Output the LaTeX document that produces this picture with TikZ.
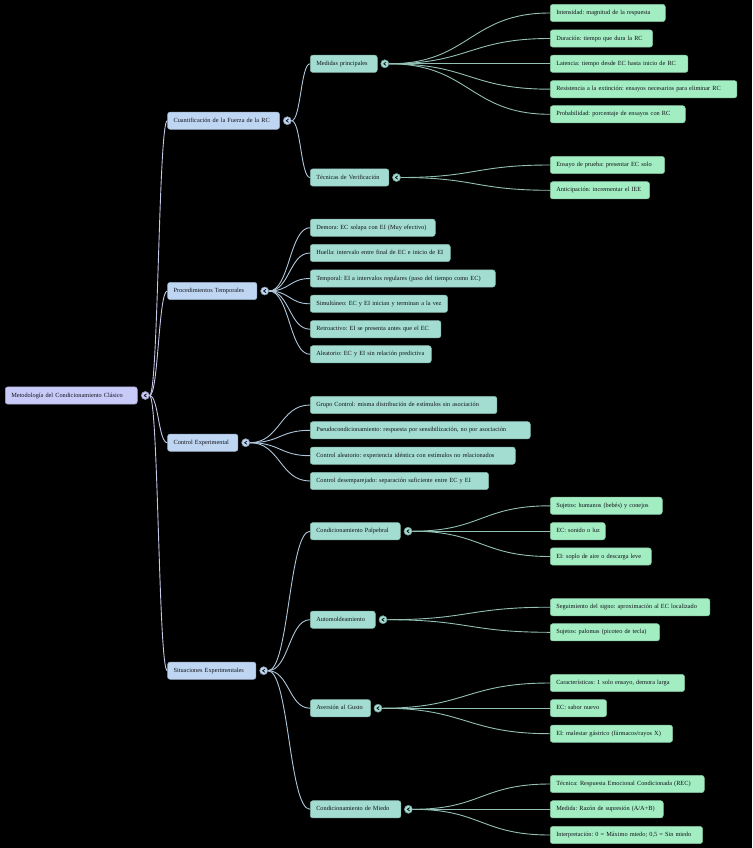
\documentclass[tikz,border=0pt]{standalone}
\usepackage{fontspec}
\setmainfont{Liberation Serif}
\usetikzlibrary{calc}
\frenchspacing
\definecolor{rootc}{HTML}{C8CAF8}
\definecolor{lonec}{HTML}{BED6F2}
\definecolor{ltwoc}{HTML}{A3DDD2}
\definecolor{lthreec}{HTML}{A3EDC3}
\definecolor{txt}{HTML}{111118}
\definecolor{linkA}{HTML}{C4C7E6}
\definecolor{linkB}{HTML}{AFC6DA}
\definecolor{linkC}{HTML}{93BFB4}
\newcommand\lnk[3]{\draw[#1] let \p1=(#2.east), \p2=(#3.west) in (\p1) .. controls ({(\x1+\x2)/2},\y1) and ({(\x1+\x2)/2},\y2) .. (\p2);}
\tikzset{
  box/.style={anchor=west, minimum height=17.2pt, inner xsep=6pt, inner ysep=0pt,
    align=left, rounded corners=2.5pt, font=\fontsize{6.3}{7.5}\selectfont, text=txt,
    line width=0.5pt, text height=4.6pt, text depth=1.4pt},
  rootbox/.style={box, fill=rootc, draw=rootc!80!black},
  onebox/.style={box, fill=lonec, draw=lonec!80!black},
  twobox/.style={box, fill=ltwoc, draw=ltwoc!80!black},
  threebox/.style={box, fill=lthreec, draw=lthreec!80!black},
  tog/.style={circle, minimum size=8pt, inner sep=0pt, line width=0.6pt, fill=#1, draw=#1!70!black,
    path picture={\draw[line width=0.8pt, txt, line cap=round, line join=round]
      ([xshift=1.1pt,yshift=1.5pt]path picture bounding box.center) -- ++(-2.2pt,-1.5pt) -- ++(2.2pt,-1.5pt);}},
  lA/.style={linkA, line width=0.9pt},
  lB/.style={linkB, line width=0.9pt},
  lC/.style={linkC, line width=0.9pt},
}
\begin{document}
\begin{tikzpicture}[x=1pt,y=-1pt]
\fill[black] (0,0) rectangle (752,848);
\useasboundingbox (0,0) rectangle (752,848);

% root
\node[rootbox, text width=120pt] (root) at (5,395.5) {\mbox{Metodología del Condicionamiento Clásico}};
% level 1
\node[onebox, text width=100pt] (a) at (167.3,120.7) {\mbox{Cuantificación de la Fuerza de la RC}};
\node[onebox, text width=77.4pt] (b) at (167.3,291) {\mbox{Procedimientos Temporales}};
\node[onebox, text width=58.4pt] (c) at (167.3,442.7) {\mbox{Control Experimental}};
\node[onebox, text width=76.4pt] (d) at (167.3,670.7) {\mbox{Situaciones Experimentales}};
% level 2 under a
\node[twobox, text width=55pt] (a1) at (310,63.8) {\mbox{Medidas principales}};
\node[twobox, text width=66.7pt] (a2) at (310,177.5) {\mbox{Técnicas de Verificación}};
% level 3 under a1
\node[threebox, text width=103pt] (a11) at (550,13) {\mbox{Intensidad: magnitud de la respuesta}};
\node[threebox, text width=90.3pt] (a12) at (550,38.5) {\mbox{Duración: tiempo que dura la RC}};
\node[threebox, text width=125.7pt] (a13) at (550,63.8) {\mbox{Latencia: tiempo desde EC hasta inicio de RC}};
\node[threebox, text width=174.7pt] (a14) at (550,89.2) {\mbox{Resistencia a la extinción: ensayos necesarios para eliminar RC}};
\node[threebox, text width=123pt] (a15) at (550,114.3) {\mbox{Probabilidad: porcentaje de ensayos con RC}};
% level 3 under a2
\node[threebox, text width=102.3pt] (a21) at (550,165) {\mbox{Ensayo de prueba: presentar EC solo}};
\node[threebox, text width=87.3pt] (a22) at (550,190.3) {\mbox{Anticipación: incrementar el IEE}};
% level 2 under b
\node[twobox, text width=113pt] (b1) at (310,227.7) {\mbox{Demora: EC solapa con EI (Muy efectivo)}};
\node[twobox, text width=128pt] (b2) at (310,253) {\mbox{Huella: intervalo entre final de EC e inicio de EI}};
\node[twobox, text width=173pt] (b3) at (310,278.5) {\mbox{Temporal: EI a intervalos regulares (paso del tiempo como EC)}};
\node[twobox, text width=125.3pt] (b4) at (310,303.8) {\mbox{Simultáneo: EC y EI inician y terminan a la vez}};
\node[twobox, text width=118.7pt] (b5) at (310,329.2) {\mbox{Retroactivo: EI se presenta antes que el EC}};
\node[twobox, text width=109pt] (b6) at (310,354.3) {\mbox{Aleatorio: EC y EI sin relación predictiva}};
% level 2 under c
\node[twobox, text width=174.7pt] (c1) at (310,405) {\mbox{Grupo Control: misma distribución de estímulos sin asociación}};
\node[twobox, text width=208pt] (c2) at (310,430.3) {\mbox{Pseudocondicionamiento: respuesta por sensibilización, no por asociación}};
\node[twobox, text width=193pt] (c3) at (310,455.7) {\mbox{Control aleatorio: experiencia idéntica con estímulos no relacionados}};
\node[twobox, text width=166.3pt] (c4) at (310,481) {\mbox{Control desemparejado: separación suficiente entre EC y EI}};
% level 2 under d
\node[twobox, text width=78pt] (d1) at (310,531.2) {\mbox{Condicionamiento Palpebral}};
\node[twobox, text width=53pt] (d2) at (310,619.7) {\mbox{Automoldeamiento}};
\node[twobox, text width=48.3pt] (d3) at (310,708.2) {\mbox{Aversión al Gusto}};
\node[twobox, text width=78.7pt] (d4) at (310,809.3) {\mbox{Condicionamiento de Miedo}};
% level 3 under d1..d4
\node[threebox, text width=100pt] (d11) at (550,505.8) {\mbox{Sujetos: humanos (bebés) y conejos}};
\node[threebox, text width=43pt] (d12) at (550,531.2) {\mbox{EC: sonido o luz}};
\node[threebox, text width=89pt] (d13) at (550,556.5) {\mbox{EI: soplo de aire o descarga leve}};
\node[threebox, text width=147.7pt] (d21) at (550,607.2) {\mbox{Seguimiento del signo: aproximación al EC localizado}};
\node[threebox, text width=97.3pt] (d22) at (550,632.3) {\mbox{Sujetos: palomas (picoteo de tecla)}};
\node[threebox, text width=122.3pt] (d31) at (550,683) {\mbox{Características: 1 solo ensayo, demora larga}};
\node[threebox, text width=44.3pt] (d32) at (550,708.2) {\mbox{EC: sabor nuevo}};
\node[threebox, text width=110.3pt] (d33) at (550,733.7) {\mbox{EI: malestar gástrico (fármacos/rayos X)}};
\node[threebox, text width=142pt] (d41) at (550,784) {\mbox{Técnica: Respuesta Emocional Condicionada (REC)}};
\node[threebox, text width=101pt] (d42) at (550,809.3) {\mbox{Medida: Razón de supresión (A/A+B)}};
\node[threebox, text width=140.3pt] (d43) at (550,835) {\mbox{Interpretación: 0 = Máximo miedo; 0,5 = Sin miedo}};

% toggles
\node[tog=rootc] (tr) at ($(root.east)+(7.8,0)$) {};
\node[tog=lonec] (ta) at ($(a.east)+(7.5,0)$) {};
\node[tog=lonec] (tb) at ($(b.east)+(7.5,0)$) {};
\node[tog=lonec] (tc) at ($(c.east)+(7.5,0)$) {};
\node[tog=lonec] (td) at ($(d.east)+(7.5,0)$) {};
\node[tog=ltwoc] (ta1) at ($(a1.east)+(7.3,0)$) {};
\node[tog=ltwoc] (ta2) at ($(a2.east)+(7.3,0)$) {};
\node[tog=ltwoc] (td1) at ($(d1.east)+(7.5,0)$) {};
\node[tog=ltwoc] (td2) at ($(d2.east)+(7.5,0)$) {};
\node[tog=ltwoc] (td3) at ($(d3.east)+(7.2,0)$) {};
\node[tog=ltwoc] (td4) at ($(d4.east)+(7.2,0)$) {};

% links
\foreach \t in {a,b,c,d} {\lnk{lA}{tr}{\t}}
\foreach \t in {a1,a2} {\lnk{lB}{ta}{\t}}
\foreach \t in {b1,b2,b3,b4,b5,b6} {\lnk{lB}{tb}{\t}}
\foreach \t in {c1,c2,c3,c4} {\lnk{lB}{tc}{\t}}
\foreach \t in {d1,d2,d3,d4} {\lnk{lB}{td}{\t}}
\foreach \t in {a11,a12,a13,a14,a15} {\lnk{lC}{ta1}{\t}}
\foreach \t in {a21,a22} {\lnk{lC}{ta2}{\t}}
\foreach \t in {d11,d12,d13} {\lnk{lC}{td1}{\t}}
\foreach \t in {d21,d22} {\lnk{lC}{td2}{\t}}
\foreach \t in {d31,d32,d33} {\lnk{lC}{td3}{\t}}
\foreach \t in {d41,d42,d43} {\lnk{lC}{td4}{\t}}
\end{tikzpicture}
\end{document}
